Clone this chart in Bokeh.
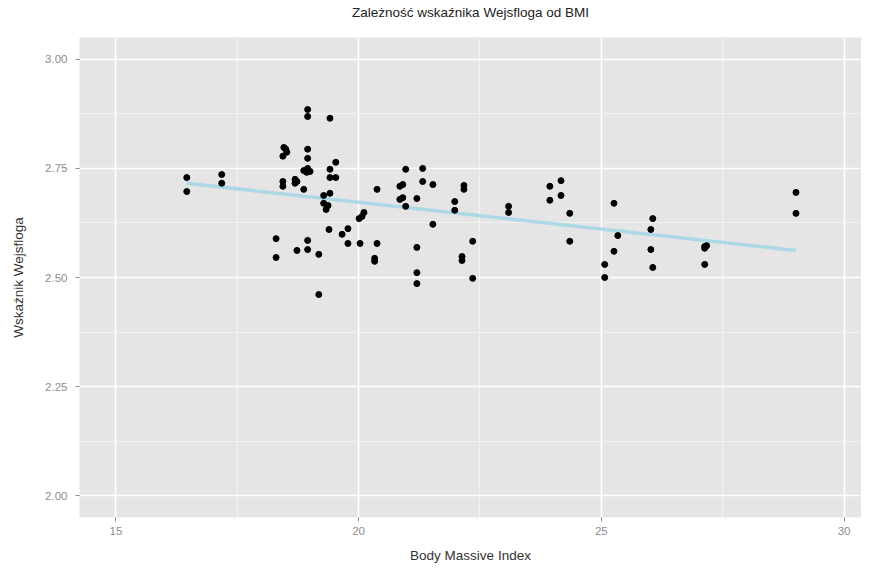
from bokeh.plotting import figure
from bokeh.models import Range1d, FixedTicker, NumeralTickFormatter, ColumnDataSource, Title
from bokeh.embed import file_html
from bokeh.resources import INLINE

# BMI values (x) and Wejsflog index values (y)
bmi = [16.46, 16.46,
       17.18, 17.18,
       18.46, 18.50, 18.52, 18.44, 18.44, 18.44, 18.30, 18.30,
       18.69, 18.73, 18.69, 18.73,
       18.95, 18.95, 18.95, 18.95, 18.87, 18.95, 19.00, 18.93, 18.87, 18.95, 18.95,
       19.18, 19.18,
       19.41, 19.53, 19.41, 19.41, 19.53, 19.41, 19.28, 19.28, 19.37, 19.33, 19.39,
       19.78, 19.66, 19.78,
       20.11, 20.07, 20.01, 20.03,
       20.38, 20.38, 20.33, 20.33,
       20.97, 20.85, 20.91, 20.85, 20.91, 20.97,
       21.32, 21.32, 21.20, 21.20, 21.20, 21.20,
       21.53, 21.53,
       21.98, 21.98,
       22.17, 22.17, 22.13, 22.13,
       22.35, 22.35,
       23.09, 23.09,
       23.94, 24.17, 23.94, 24.17, 24.35, 24.35,
       25.26, 25.34, 25.26, 25.07, 25.07,
       26.06, 26.02, 26.02, 26.06,
       27.13, 27.17, 27.13, 27.13,
       29.01, 29.01]
wejsflog = [2.729, 2.697,
            2.736, 2.716,
            2.798, 2.794, 2.787, 2.778, 2.720, 2.709, 2.589, 2.546,
            2.725, 2.720, 2.716, 2.562,
            2.885, 2.869, 2.794, 2.773, 2.745, 2.750, 2.743, 2.741, 2.702, 2.585, 2.564,
            2.553, 2.461,
            2.865, 2.764, 2.748, 2.729, 2.729, 2.693, 2.688, 2.670, 2.665, 2.656, 2.610,
            2.612, 2.599, 2.578,
            2.649, 2.640, 2.635, 2.578,
            2.702, 2.578, 2.544, 2.537,
            2.748, 2.709, 2.713, 2.679, 2.683, 2.663,
            2.750, 2.720, 2.681, 2.569, 2.511, 2.486,
            2.713, 2.622,
            2.674, 2.654,
            2.711, 2.702, 2.548, 2.539,
            2.583, 2.498,
            2.663, 2.649,
            2.709, 2.722, 2.677, 2.688, 2.647, 2.583,
            2.670, 2.596, 2.560, 2.530, 2.500,
            2.635, 2.610, 2.564, 2.523,
            2.571, 2.573, 2.567, 2.530,
            2.695, 2.647]

# fitted regression line end points
fit_bmi = [16.46, 29.01]
fit_wejsflog = [2.716, 2.562]

x_ticks = [15, 20, 25, 30]
x_minor = [17.5, 22.5, 27.5]
y_ticks = [2.00, 2.25, 2.50, 2.75, 3.00]
y_minor = [2.125, 2.375, 2.625, 2.875]

FONT = "Liberation Sans"
TITLE = "Zależność wskaźnika Wejsfloga od BMI"

p = figure(width=861, height=565, output_backend="svg", toolbar_location=None,
           x_range=Range1d(14.25, 30.36), y_range=Range1d(1.95, 3.05),
           min_border_left=79, min_border_right=0, min_border_top=37,
           min_border_bottom=48)

p.background_fill_color = "#E5E5E5"
p.border_fill_color = "white"
p.outline_line_color = None

# spacer between the title and the panel, then the title itself
p.add_layout(Title(text=" ", text_font=FONT, text_font_size="14px", standoff=0), "above")
p.add_layout(Title(text=TITLE, align="center", text_font=FONT, text_font_size="13.5px",
                   text_font_style="normal", text_color="#222222", standoff=0), "above")

for ax in (p.xaxis[0], p.yaxis[0]):
    ax.axis_line_color = None
    ax.major_tick_line_color = "#8C8C8C"
    ax.major_tick_out = 4
    ax.major_tick_in = 0
    ax.minor_tick_line_color = None
    ax.major_label_text_font = FONT
    ax.major_label_text_font_size = "11.5px"
    ax.major_label_text_color = "#8C8C8C"
    ax.axis_label_text_font = FONT
    ax.axis_label_text_font_size = "13.5px"
    ax.axis_label_text_font_style = "normal"
    ax.axis_label_text_color = "#333333"

p.xaxis.ticker = FixedTicker(ticks=x_ticks, minor_ticks=x_minor)
p.yaxis.ticker = FixedTicker(ticks=y_ticks, minor_ticks=y_minor)
p.yaxis.formatter = NumeralTickFormatter(format="0.00")
p.xaxis.axis_label = "Body Massive Index"
p.yaxis.axis_label = "Wskaźnik Wejsfloga"
p.xaxis.major_label_standoff = 5
p.yaxis.major_label_standoff = 8
p.xaxis.axis_label_standoff = 10
p.yaxis.axis_label_standoff = 16

p.grid.grid_line_color = "white"
p.grid.grid_line_width = 1.6
p.grid.minor_grid_line_color = "#F2F2F2"
p.grid.minor_grid_line_width = 1

src = ColumnDataSource(dict(x=bmi, y=wejsflog))
p.line(fit_bmi, fit_wejsflog, line_color="#ADD8E6", line_width=3.5)
p.scatter("x", "y", source=src, size=6, fill_color="black", line_color="black")

open("out.html", "w").write(file_html(p, INLINE))
